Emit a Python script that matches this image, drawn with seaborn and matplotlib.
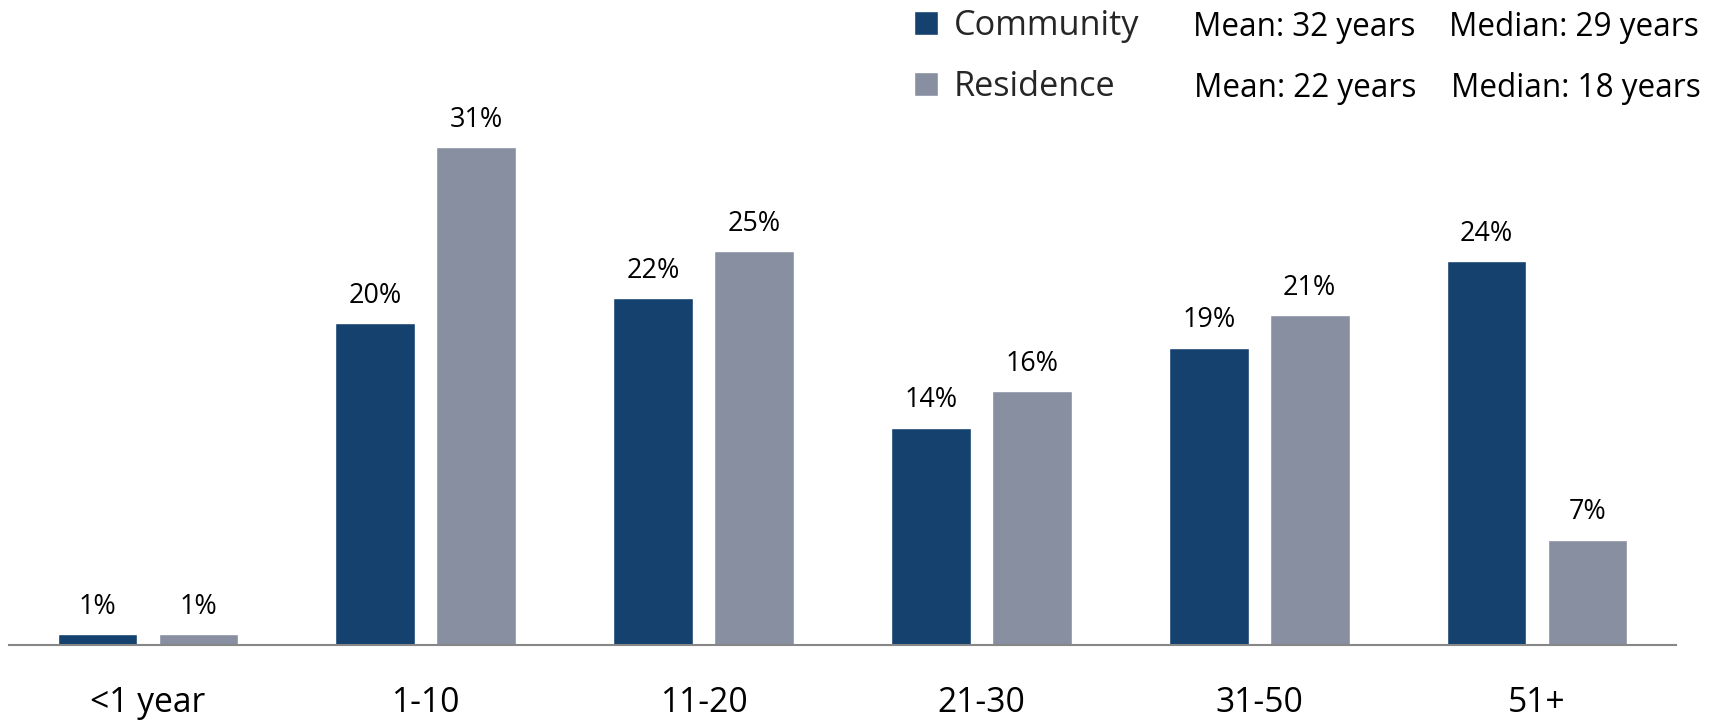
import matplotlib
matplotlib.use("Agg")
import matplotlib.pyplot as plt
import seaborn as sns
import pandas as pd

# ---- data ----
categories = ["<1 year", "1-10", "11-20", "21-30", "31-50", "51+"]
series_names = ["Community", "Residence"]
community = [0.7, 20.1, 21.7, 13.6, 18.6, 24.0]
residence = [0.7, 31.1, 24.6, 15.9, 20.6, 6.6]
stats_mean = ["Mean: 32 years", "Mean: 22 years"]
stats_median = ["Median: 29 years", "Median: 18 years"]

colors = {"Community": "#15416F", "Residence": "#878FA1"}

df = pd.DataFrame({
    "category": categories * 2,
    "group": [series_names[0]] * len(categories) + [series_names[1]] * len(categories),
    "value": community + residence,
})

sns.set_theme(style="white")
plt.rcParams["font.family"] = ["Open Sans", "DejaVu Sans"]

W, H = 1734, 721
fig = plt.figure(figsize=(W / 100, H / 100), dpi=100)
ax = fig.add_axes([9 / W, (H - 645.3) / H, 1667 / W, 34 * 16.01 / H])

sns.barplot(data=df, x="category", y="value", hue="group", order=categories,
            hue_order=series_names, palette=colors, width=0.727, gap=0.21,
            saturation=1, ax=ax, legend=True)

ax.set_xlim(-0.5, 5.5)
ax.set_ylim(0, 34)
ax.set_xlabel("")
ax.set_ylabel("")
ax.set_yticks([])
for s in ["top", "right", "left"]:
    ax.spines[s].set_visible(False)
ax.spines["bottom"].set_color("#878787")
ax.spines["bottom"].set_linewidth(1.5)
ax.tick_params(axis="x", length=0, pad=29, labelsize=24.2, labelcolor="black")

for cont in ax.containers:
    ax.bar_label(cont, fmt="%.0f%%", padding=9.5, fontsize=19.4, color="black")

handles, labels = ax.get_legend_handles_labels()
ax.legend(handles, labels, loc="upper left",
          bbox_to_anchor=(914 / W, 1 - 9 / H), bbox_transform=fig.transFigure,
          frameon=False, fontsize=24.7, borderpad=0, borderaxespad=0,
          handlelength=0.7, handleheight=0.7, handletextpad=0.45,
          labelspacing=0.8)

mean_x = [1193, 1194]
median_x = [1449, 1451]
baselines = [36, 97]
for i in range(2):
    fig.text(mean_x[i] / W, 1 - baselines[i] / H, stats_mean[i], fontsize=22.7,
             va="baseline", ha="left", color="black")
    fig.text(median_x[i] / W, 1 - baselines[i] / H, stats_median[i], fontsize=22.7,
             va="baseline", ha="left", color="black")

fig.savefig("out.png", dpi=100)
